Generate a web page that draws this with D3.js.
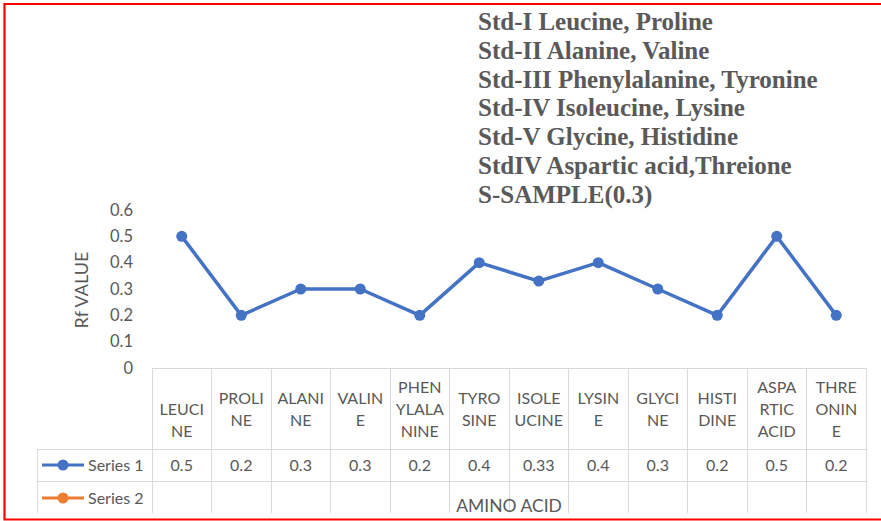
<!DOCTYPE html>
<html><head><meta charset="utf-8">
<script src="https://cdn.jsdelivr.net/npm/d3@7"></script>
<style>
html,body{margin:0;padding:0;background:#fff;}
svg{display:block;}
</style>
</head><body>
<svg id="chart" width="881" height="521"></svg>
<script>
const categories = ["LEUCINE","PROLINE","ALANINE","VALINE","PHENYLALANINE","TYROSINE","ISOLEUCINE","LYSINE","GLYCINE","HISTIDINE","ASPARTIC ACID","THREONINE"];
const categoryLines = [["","LEUCI","NE"],["PROLI","NE"],["ALANI","NE"],["VALIN","E"],["PHEN","YLALA","NINE"],["TYRO","SINE"],["ISOLE","UCINE"],["LYSIN","E"],["GLYCI","NE"],["HISTI","DINE"],["ASPA","RTIC","ACID"],["THRE","ONIN","E"]];
const series1 = [0.5,0.2,0.3,0.3,0.2,0.4,0.33,0.4,0.3,0.2,0.5,0.2];
const series2 = [];
const seriesNames = ["Series 1","Series 2"];
const yTicks = [0,0.1,0.2,0.3,0.4,0.5,0.6];
const notes = ["Std-I Leucine, Proline","Std-II Alanine, Valine","Std-III Phenylalanine, Tyronine","Std-IV Isoleucine, Lysine","Std-V Glycine, Histidine","StdIV Aspartic acid,Threione","S-SAMPLE(0.3)"];
const xTitle = "AMINO ACID";
const yTitle = "Rf VALUE";

(function () {
const svg = d3.select("#chart");
const W = 881, H = 521;
const font = "Lato, 'Open Sans', 'Liberation Sans', sans-serif";
const gray = "#595959", gridC = "#d9d9d9", blue = "#4472C4", orange = "#ED7D31";

// plot area
const pLeft = 152, pRight = 866, pTop = 210, pBottom = 368;
const x = d3.scaleBand().domain(categories).range([pLeft, pRight]).padding(0);
const y = d3.scaleLinear().domain([0, 0.6]).range([pBottom, pTop]);

// y tick labels
const yAxis = d3.axisLeft(y).tickValues(yTicks).tickSize(0).tickPadding(0).tickFormat(d3.format("~g"));
const ya = svg.append("g").attr("transform", `translate(133,0)`).call(yAxis);
ya.select(".domain").remove();
ya.selectAll("text").attr("fill", gray).style("font-family", font).style("font-size", "16.5px");

// y title
svg.append("text").attr("transform", "translate(88,290) rotate(-90)")
  .attr("text-anchor", "middle").attr("fill", gray)
  .style("font-family", font).style("font-size", "18px").text(yTitle);

// data table
const rowTop = 368, rowCat = 449, rowS1 = 481, rowBot = 513, legLeft = 37;
const tg = svg.append("g").attr("stroke", gridC).attr("stroke-width", 1).attr("shape-rendering", "crispEdges");
tg.append("line").attr("x1", pLeft).attr("x2", pRight).attr("y1", rowTop).attr("y2", rowTop);
[rowCat, rowS1].forEach(yy => tg.append("line").attr("x1", legLeft).attr("x2", pRight).attr("y1", yy).attr("y2", yy));
const edges = categories.map(c => x(c)).concat([pRight]);
edges.forEach(xx => tg.append("line").attr("x1", xx).attr("x2", xx).attr("y1", rowTop).attr("y2", rowBot));
tg.append("line").attr("x1", legLeft).attr("x2", legLeft).attr("y1", rowCat).attr("y2", rowBot);

// category labels
const lh = 22, catMid = 409;
categories.forEach((c, i) => {
  const lines = categoryLines[i];
  const t = svg.append("text").attr("text-anchor", "middle").attr("fill", gray)
    .style("font-family", font).style("font-size", "16px");
  lines.forEach((ln, j) => {
    t.append("tspan").attr("x", x(c) + x.bandwidth() / 2)
      .attr("y", catMid + (j - (lines.length - 1) / 2) * lh).attr("dy", "0.35em").text(ln);
  });
});

// series values row
svg.append("g").selectAll("text").data(series1).join("text")
  .attr("x", (d, i) => x(categories[i]) + x.bandwidth() / 2).attr("y", (rowCat + rowS1) / 2).attr("dy", "0.35em")
  .attr("text-anchor", "middle").attr("fill", gray).style("font-family", font).style("font-size", "16px")
  .text(d => d);

// legend keys in table
[[blue, rowCat, rowS1], [orange, rowS1, rowBot + 2]].forEach(([col, a, b], k) => {
  const cy = (a + b) / 2;
  svg.append("line").attr("x1", 42).attr("x2", 84).attr("y1", cy).attr("y2", cy).attr("stroke", col).attr("stroke-width", 3);
  svg.append("circle").attr("cx", 63).attr("cy", cy).attr("r", 5.5).attr("fill", col);
  svg.append("text").attr("x", 88).attr("y", cy).attr("dy", "0.35em").attr("fill", gray)
    .style("font-family", font).style("font-size", "16px").text(seriesNames[k]);
});

// x title
svg.append("text").attr("x", (pLeft + pRight) / 2).attr("y", 512).attr("text-anchor", "middle").attr("fill", gray)
  .style("font-family", font).style("font-size", "17.5px").text(xTitle);

// series line
const line = d3.line().x((d, i) => x(categories[i]) + x.bandwidth() / 2).y(d => y(d));
svg.append("path").datum(series1).attr("d", line).attr("fill", "none").attr("stroke", blue)
  .attr("stroke-width", 3.5).attr("stroke-linejoin", "round");
svg.append("g").selectAll("circle").data(series1).join("circle")
  .attr("cx", (d, i) => x(categories[i]) + x.bandwidth() / 2).attr("cy", d => y(d)).attr("r", 5.5).attr("fill", blue);

// notes
const ng = svg.append("text").attr("fill", gray).style("font-family", "'Liberation Serif', 'Times New Roman', serif")
  .style("font-size", "25px").style("font-weight", "bold");
notes.forEach((n, i) => ng.append("tspan").attr("x", 478).attr("y", 30 + i * 28.8).text(n));

// white mask under table bottom, then red frame
svg.append("rect").attr("x", 0).attr("y", 514).attr("width", W).attr("height", 10).attr("fill", "#fff");
svg.append("path").attr("d", `M${W + 5},4 H4.5 V519.5 H${W + 5}`).attr("fill", "none").attr("stroke", "#ff0000").attr("stroke-width", 2.2);
})();
</script>
</body></html>
